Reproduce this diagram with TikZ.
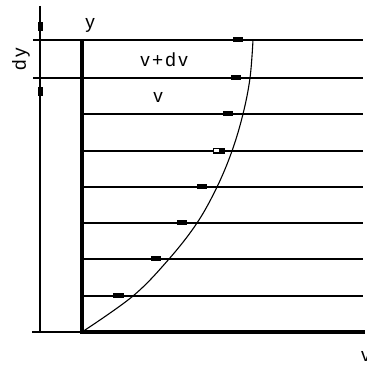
\documentclass[tikz,border=0pt]{standalone}
\usepackage{fontspec}
\setmainfont{Liberation Sans}
\newfontfamily\lblfont[LetterSpace=12]{Liberation Sans}
\begin{document}
\begin{tikzpicture}[x=1pt,y=-1pt,
  thinline/.style={line width=1.4pt},
  wallline/.style={line width=4pt},
  dimline/.style={line width=1.1pt},
  lbl/.style={inner sep=0pt,font=\lblfont\fontsize{19}{22}\selectfont}]
\useasboundingbox (0,0) rectangle (367,366);
% flow lines
\draw[thinline] (33,40) -- (363,40);
\draw[thinline] (33,78) -- (363,78);
\foreach \yy in {114,151,187,223,259,296}
  \draw[thinline] (82,\yy) -- (363,\yy);
% bottom wall line
\draw[thinline] (32,332) -- (82,332);
\draw[line width=3.5pt] (80,332) -- (365,332);
% vertical wall
\draw[wallline] (82,40) -- (82,334);
% dimension line
\draw[dimline] (40,6) -- (40,332);
\fill (37.5,22) rectangle (42.5,31);
\fill (37.5,87) rectangle (42.5,96);
% velocity tips
\fill (233,37.5) rectangle (243,42.5);
\fill (231,75.5) rectangle (241,80.5);
\fill (223,111.5) rectangle (233,116.5);
\draw[line width=1.4pt,fill=white] (213.5,148.8) rectangle (224,153.2);
\fill (219,148.5) rectangle (225,153.5);
\fill (197,184.5) rectangle (207,189.5);
\fill (177,220.5) rectangle (187,225.5);
\fill (151,256.5) rectangle (161,261.5);
\fill (113,293.5) rectangle (124,298.5);
\draw[thinline] (243,40) -- (253,40);
% velocity profile
\draw[line width=1.1pt] plot[smooth,tension=0.6] coordinates {(253,40) (250,78) (243,114) (232,151) (217,187) (197,223) (169,259) (133,296) (82,332)};
% labels
\node[lbl,anchor=base] (ylab) at (90,29) {y};
\node[lbl,anchor=base] (vdv) at (164,67) {v+dv};
\node[lbl,anchor=base] (vlab) at (158,103) {v};
\node[lbl,rotate=90] (dylab) at (21,59) {dy};
\node[lbl,anchor=base west] (vaxis) at (361,361) {v};
\end{tikzpicture}
\end{document}
